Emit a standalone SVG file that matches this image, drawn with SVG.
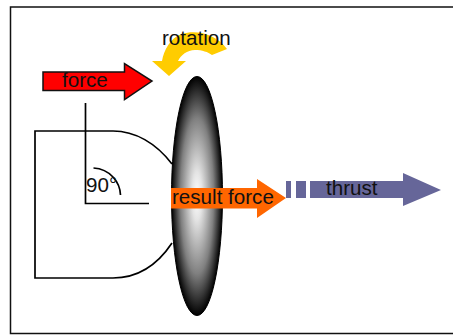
<svg xmlns="http://www.w3.org/2000/svg" width="453" height="335" viewBox="0 0 453 335">
<style>
text{font-family:"Liberation Sans",Arial,sans-serif;font-size:20.600px;fill:#111}
.l{fill:none;stroke:#000;stroke-width:1.700}
</style>
<defs>
<radialGradient id="g" gradientUnits="objectBoundingBox" cx=".5" cy=".5" r=".5">
<stop offset="0" stop-color="#fff"/><stop offset=".2" stop-color="#e4e4e4"/><stop offset=".65" stop-color="#808080"/><stop offset="1" stop-color="#000"/>
</radialGradient>
</defs>
<rect width="453" height="335" fill="#fff"/>
<rect id="frame" x="10.500" y="7" width="445" height="326.500" fill="#fff" stroke="#111" stroke-width="1.500"/>
<g id="body"><path class="l" d="M172 243C158 264 138 278 113 278H35V131H113C135 131 156 143 172 164"/></g>
<g id="disc"><ellipse cx="197" cy="196" rx="25.500" ry="119.500" fill="url(#g)" stroke="#000" stroke-width="1"/></g>
<g id="angle"><path class="l" d="M85.500 103V203.500H149"/><path class="l" d="M93.500 168C110 169 120 182 120.500 195"/>
<text x="86" y="192">90°</text></g>
<g id="force"><path d="M43 72H124.500V63.500L152 81L124.500 99.500V90.500H43Z" fill="#f00" stroke="#111" stroke-width="1.500"/><text x="62" y="87">force</text></g>
<g id="rotation"><path d="M227 49C217 35 197 29 182 34C170 38 164 50 162 61H152L169 76L186 61H178C181 55 187 50 195 50C202 50 208 52 212 55Z" fill="#fc0"/>
<text x="162" y="45">rotation</text></g>
<g id="result-force"><path d="M171 188H257V179L286 198L257 218V208.500H171Z" fill="#f60"/><text x="172" y="204">result force</text></g>
<g id="thrust"><path d="M286 181H291V198H286ZM296 181H306V198H296ZM310 181H403V173L441 190L403 206V198H310Z" fill="#669"/><text x="326" y="195">thrust</text></g>
</svg>
